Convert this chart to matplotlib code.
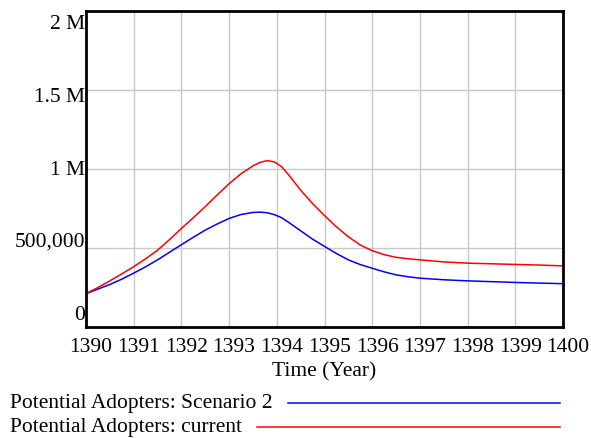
import numpy as np
import matplotlib.pyplot as plt
import matplotlib.transforms as mtransforms
from matplotlib.lines import Line2D

plt.rcParams['font.family'] = ['Liberation Serif', 'DejaVu Serif']

# time axis (years) and the two runs
years = [1390, 1390.25, 1390.5, 1390.75, 1391, 1391.25, 1391.5, 1391.75,
         1392, 1392.25, 1392.5, 1392.75, 1393, 1393.25, 1393.5, 1393.65,
         1393.8, 1393.95, 1394.1, 1394.25, 1394.5, 1394.75, 1395, 1395.25,
         1395.5, 1395.75, 1396, 1396.25, 1396.5, 1396.75, 1397, 1397.5,
         1398, 1398.5, 1399, 1399.5, 1400]
scenario2 = [0.211, 0.240, 0.269, 0.303, 0.341, 0.381, 0.425, 0.473,
             0.521, 0.568, 0.613, 0.652, 0.687, 0.712, 0.725, 0.727,
             0.723, 0.711, 0.692, 0.662, 0.609, 0.556, 0.510, 0.465,
             0.425, 0.395, 0.372, 0.349, 0.330, 0.318, 0.309, 0.299,
             0.292, 0.287, 0.282, 0.278, 0.274]
current = [0.211, 0.250, 0.292, 0.336, 0.382, 0.432, 0.486, 0.553,
           0.624, 0.692, 0.762, 0.836, 0.907, 0.970, 1.020, 1.042,
           1.053, 1.045, 1.015, 0.962, 0.866, 0.781, 0.705, 0.634,
           0.571, 0.519, 0.483, 0.458, 0.441, 0.432, 0.425, 0.412,
           0.404, 0.400, 0.396, 0.392, 0.387]

xticks = list(range(1390, 1401))
yticks = [0, 500000, 1000000, 1500000, 2000000]
ylabels = ["0", "500,000", "1 M", "1.5 M", "2 M"]
legend_names = ["Potential Adopters: Scenario 2", "Potential Adopters: current"]
colors = ["#0000ff", "#ff0000"]
fs = 15.5

fig = plt.figure(figsize=(5.91, 4.39), dpi=100)
ax = fig.add_axes([86 / 591, 1 - 328 / 439, 477 / 591, 316 / 439])

ax.plot(years, np.array(scenario2) * 1e6, color=colors[0], lw=1.1)
ax.plot(years, np.array(current) * 1e6, color=colors[1], lw=1.1)

ax.set_xlim(1390, 1400)
ax.set_ylim(0, 2000000)
ax.set_xticks(xticks)
ax.set_yticks(yticks)
ax.grid(True, color="#c8c8c8", lw=1)
ax.tick_params(length=0, labelleft=False, labelsize=fs, pad=7)
ax.set_xticklabels([str(t) for t in xticks])
shift = mtransforms.ScaledTranslation(5 / 100, 0, fig.dpi_scale_trans)
for lab in ax.get_xticklabels():
	lab.set_transform(lab.get_transform() + shift)
for s in ax.spines.values():
	s.set_linewidth(2)
	s.set_color("black")

# vensim spreads the y labels evenly inside the frame
fracs = np.linspace(0.041, 0.959, len(ylabels))
for f, lab in zip(fracs, ylabels):
	ax.text(-0.002, f, lab, transform=ax.transAxes, ha="right", va="center", fontsize=fs)

ax.set_xlabel("Time (Year)", fontsize=fs, labelpad=4)

# legend: text followed by a sample line
renderer = fig.canvas.get_renderer()
for i, (name, c) in enumerate(zip(legend_names, colors)):
	yf = 1 - (404 + 24 * i) / 439
	t = fig.text(10 / 591, yf, name, ha="left", va="center", fontsize=fs)
	bb = t.get_window_extent(renderer)
	x0 = (bb.x1 + 15) / 591
	fig.add_artist(Line2D([x0, 560 / 591], [yf, yf], color=c, lw=1.1, transform=fig.transFigure))

fig.savefig("out.png", dpi=100)
